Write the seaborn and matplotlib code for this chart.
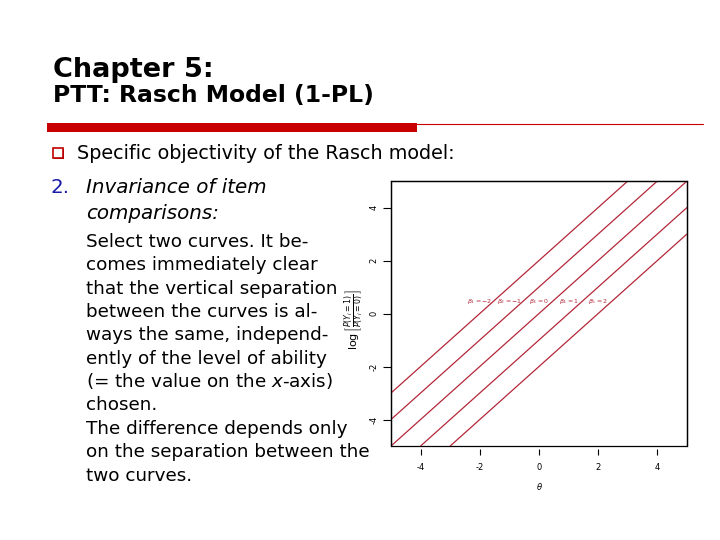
"""
Rasch model slide — invariance of item comparisons
(log-odds lines for five items, with the slide text around them)
"""

import pandas as pd
import matplotlib.pyplot as plt
from matplotlib.patches import Rectangle
from matplotlib.lines import Line2D
import seaborn as sns

# ── Data ──────────────────────────────────────────────────────────────────────
THETA_ENDS = [-5, 5]                       # ability range shown on the x-axis
BETAS = [-2, -1, 0, 1, 2]                  # item difficulties
LOGIT_AT_LEFT = [-3, -4, -5, -6, -7]       # log-odds at theta = -5
LOGIT_AT_RIGHT = [7, 6, 5, 4, 3]           # log-odds at theta = 5
ITEM_LABELS = [r"$\beta_1 = -2$", r"$\beta_2 = -1$", r"$\beta_3 = 0$",
               r"$\beta_4 = 1$", r"$\beta_5 = 2$"]
X_TICKS = [-4, -2, 0, 2, 4]
Y_TICKS = [-4, -2, 0, 2, 4]

TITLE = "Chapter 5:"
SUBTITLE = "PTT: Rasch Model (1-PL)"
BULLET = "Specific objectivity of the Rasch model:"
HEADING = ["Invariance of item", "comparisons:"]
PARAGRAPH = [
    "Select two curves. It be-",
    "comes immediately clear",
    "that the vertical separation",
    "between the curves is al-",
    "ways the same, independ-",
    "ently of the level of ability",
    r"(= the value on the $\mathit{x}$-axis)",
    "chosen.",
    "The difference depends only",
    "on the separation between the",
    "two curves.",
]

# ── Style ─────────────────────────────────────────────────────────────────────
sns.set_theme(style="ticks")
plt.rcParams.update({
    "font.family": ["DejaVu Sans"],
    "mathtext.fontset": "dejavusans",
    "axes.facecolor": "white",
    "figure.facecolor": "white",
    "text.color": "black",
    "axes.labelcolor": "black",
    "xtick.color": "black",
    "ytick.color": "black",
})

LINE_RED = "#b3283a"
BAR_RED = "#c80000"
W, H = 720, 540


def fx(px):
    return px / W


def fy(py):
    return 1 - py / H


# ── Long-format frame for seaborn ─────────────────────────────────────────────
rows = []
for lab, lo, hi in zip(ITEM_LABELS, LOGIT_AT_LEFT, LOGIT_AT_RIGHT):
    rows.append({"item": lab, "theta": THETA_ENDS[0], "logit": lo})
    rows.append({"item": lab, "theta": THETA_ENDS[1], "logit": hi})
df = pd.DataFrame(rows)

fig = plt.figure(figsize=(7.2, 5.4), dpi=100)

# ── Slide text ────────────────────────────────────────────────────────────────
fig.text(fx(53), fy(77), TITLE, fontsize=19.5, fontweight="bold", va="baseline")
fig.text(fx(53), fy(102), SUBTITLE, fontsize=16.9, fontweight="bold", va="baseline")

fig.add_artist(Rectangle((fx(47), fy(132)), fx(417) - fx(47), fy(123) - fy(132),
                         transform=fig.transFigure, color=BAR_RED, lw=0))
fig.add_artist(Line2D([fx(417), fx(703)], [fy(124), fy(124)],
                      transform=fig.transFigure, color=BAR_RED, lw=0.8))

# bullet box
fig.add_artist(Rectangle((fx(54), fy(159)), fx(10), 10 / H, transform=fig.transFigure,
                         facecolor="#8b0000", lw=0))
fig.add_artist(Rectangle((fx(53), fy(158)), fx(10), 10 / H, transform=fig.transFigure,
                         facecolor="white", edgecolor="#c00000", lw=1.2))
fig.text(fx(77), fy(159), BULLET, fontsize=13.8, va="baseline")

fig.text(fx(51), fy(193), "2.", fontsize=14.3, color="#1c1ca8", va="baseline")
fig.text(fx(86), fy(193), HEADING[0], fontsize=14.3, style="italic", va="baseline")
fig.text(fx(86), fy(219), HEADING[1], fontsize=14.3, style="italic", va="baseline")

for i, line in enumerate(PARAGRAPH):
    fig.text(fx(86), fy(246.7 + 23.4 * i), line, fontsize=13.2, va="baseline")

# ── Plot panel ────────────────────────────────────────────────────────────────
ax = fig.add_axes([fx(391), fy(446), fx(687) - fx(391), fy(181) - fy(446)])
sns.lineplot(data=df, x="theta", y="logit", hue="item",
             palette=[LINE_RED] * len(ITEM_LABELS), legend=False,
             linewidth=0.9, ax=ax)

for beta, lab in zip(BETAS, ITEM_LABELS):
    ax.text(beta, 0.45, lab, fontsize=4.5, color=LINE_RED, ha="center", va="center")

ax.set_xlim(-5, 5)
ax.set_ylim(-5, 5)
ax.set_xticks(X_TICKS)
ax.set_yticks(Y_TICKS)
ax.set_xticklabels([str(t) for t in X_TICKS])
ax.set_yticklabels([str(t) for t in Y_TICKS], rotation=90, va="center")
ax.tick_params(axis="both", labelsize=6, colors="black", width=0.8)
ax.tick_params(axis="x", length=4, pad=6)
ax.tick_params(axis="y", length=6, pad=3)

# R-style: box around the panel, x-axis drawn slightly below it
for s in ax.spines.values():
    s.set_visible(True)
    s.set_linewidth(0.9)
    s.set_color("black")
ax.spines["bottom"].set_position(("outward", 2))
ax.spines["bottom"].set_color("none")
ax.add_patch(Rectangle((0, 0), 1, 1, transform=ax.transAxes, fill=False,
                       edgecolor="black", lw=0.9, clip_on=False))

ax.set_xlabel(r"$\theta$", fontsize=6)
ax.set_ylabel(r"$\log\left[\frac{P(Y_i = 1)}{P(Y_i = 0)}\right]$", fontsize=8)
ax.xaxis.set_label_coords(0.503, -0.132)
ax.yaxis.set_label_coords(-0.085, 0.475)

fig.savefig("out.png", dpi=100)
